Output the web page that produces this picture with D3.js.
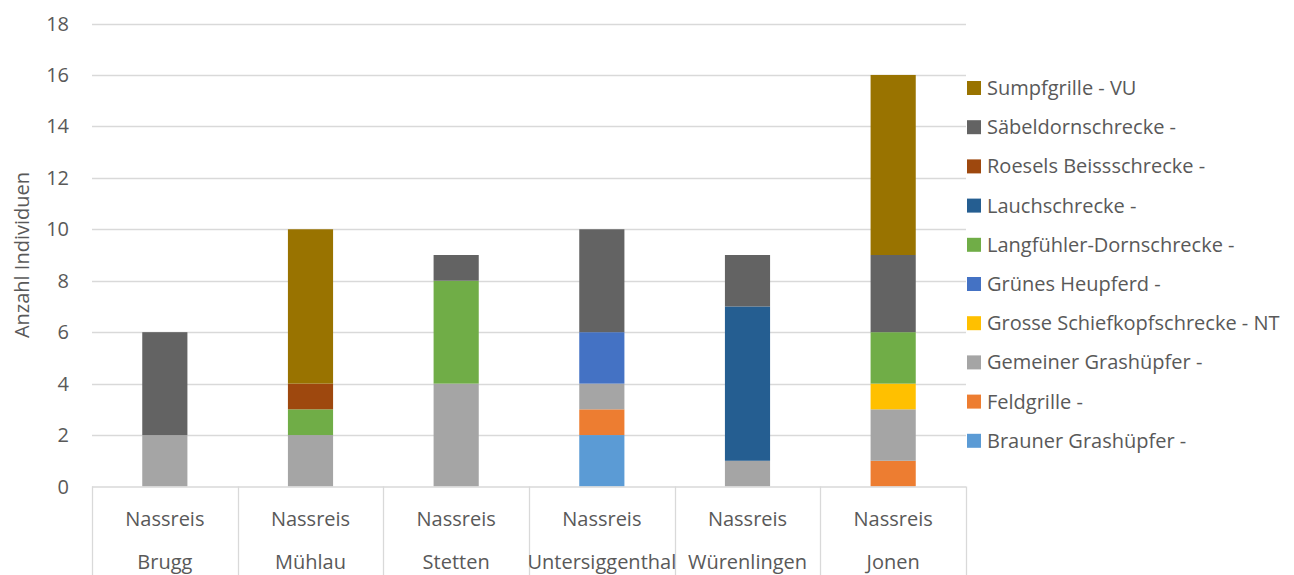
<!DOCTYPE html>
<html>
<head>
<meta charset="utf-8">
<script src="https://cdn.jsdelivr.net/npm/d3@7"></script>
<style>
  html, body { margin: 0; padding: 0; background: #fff; }
  svg { display: block; font-family: "Open Sans", "Liberation Sans", sans-serif; }
</style>
</head>
<body>
<svg id="chart" width="1294" height="575"></svg>
<script>
// Sites (two-level category axis: habitat / location)
const habitats = ["Nassreis", "Nassreis", "Nassreis", "Nassreis", "Nassreis", "Nassreis"];
const sites = ["Brugg", "Mühlau", "Stetten", "Untersiggenthal", "Würenlingen", "Jonen"];

// Species in stacking order (bottom to top)
const species = [
  "Brauner Grashüpfer -",
  "Feldgrille -",
  "Gemeiner Grashüpfer -",
  "Grosse Schiefkopfschrecke - NT",
  "Grünes Heupferd -",
  "Langfühler-Dornschrecke -",
  "Lauchschrecke -",
  "Roesels Beissschrecke -",
  "Säbeldornschrecke -",
  "Sumpfgrille - VU"
];
const colors = ["#5B9BD5", "#ED7D31", "#A5A5A5", "#FFC000", "#4472C4",
                "#70AD47", "#255E91", "#9E480E", "#636363", "#997300"];

// Counts per species, one value per site
const braunerGrashuepfer  = [0, 0, 0, 2, 0, 0];
const feldgrille          = [0, 0, 0, 1, 0, 1];
const gemeinerGrashuepfer = [2, 2, 4, 1, 1, 2];
const grosseSchiefkopf    = [0, 0, 0, 0, 0, 1];
const gruenesHeupferd     = [0, 0, 0, 2, 0, 0];
const langfuehlerDorn     = [0, 1, 4, 0, 0, 2];
const lauchschrecke       = [0, 0, 0, 0, 6, 0];
const roeselsBeiss        = [0, 1, 0, 0, 0, 0];
const saebeldorn          = [4, 0, 1, 4, 2, 3];
const sumpfgrille         = [0, 6, 0, 0, 0, 7];

const seriesValues = [braunerGrashuepfer, feldgrille, gemeinerGrashuepfer, grosseSchiefkopf,
  gruenesHeupferd, langfuehlerDorn, lauchschrecke, roeselsBeiss, saebeldorn, sumpfgrille];

const yTicks = [0, 2, 4, 6, 8, 10, 12, 14, 16, 18];

// Build rows for d3.stack
const rows = sites.map((s, i) => {
  const r = { site: s, idx: i };
  species.forEach((sp, k) => { r[sp] = seriesValues[k][i]; });
  return r;
});

const svg = d3.select("#chart");
const textColor = "#595959";
const lineColor = "#D9D9D9";
const fontSize = 20;

const plot = { left: 92, right: 966, top: 23.5, bottom: 486.5 };

const x = d3.scaleBand().domain(d3.range(sites.length))
  .range([plot.left, plot.right]).paddingInner(0).paddingOuter(0);
const barW = x.bandwidth() * 0.31;

const y = d3.scaleLinear().domain([0, 18]).range([plot.bottom, plot.top]);

// Gridlines
svg.append("g").selectAll("line").data(yTicks.filter(t => t > 0)).join("line")
  .attr("x1", plot.left).attr("x2", plot.right)
  .attr("y1", d => Math.round(y(d)) + 0.5).attr("y2", d => Math.round(y(d)) + 0.5)
  .attr("stroke", lineColor).attr("stroke-width", 1.3);

// Y tick labels
svg.append("g").selectAll("text").data(yTicks).join("text")
  .attr("x", 69).attr("y", d => y(d)).attr("dy", "0.35em")
  .attr("text-anchor", "end").attr("fill", textColor).attr("font-size", fontSize)
  .text(d => d);

// Y axis title
svg.append("text")
  .attr("transform", "translate(29,255) rotate(-90)")
  .attr("text-anchor", "middle").attr("fill", textColor).attr("font-size", fontSize)
  .text("Anzahl Individuen");

// Stacked bars
const stack = d3.stack().keys(species);
const stacked = stack(rows);
svg.append("g").selectAll("g").data(stacked).join("g")
  .attr("fill", (d, i) => colors[i])
  .selectAll("rect").data(d => d.filter(p => p[1] - p[0] > 0)).join("rect")
  .attr("x", d => x(d.data.idx) + (x.bandwidth() - barW) / 2)
  .attr("width", barW)
  .attr("y", d => y(d[1]))
  .attr("height", d => y(d[0]) - y(d[1]));

// Category axis: baseline + separators
const axisG = svg.append("g");
axisG.append("line")
  .attr("x1", plot.left).attr("x2", plot.right)
  .attr("y1", plot.bottom + 0.5).attr("y2", plot.bottom + 0.5)
  .attr("stroke", lineColor).attr("stroke-width", 1.3);
const seps = d3.range(sites.length + 1).map(i => i < sites.length ? x(i) : plot.right);
axisG.selectAll("line.sep").data(seps).join("line").attr("class", "sep")
  .attr("x1", d => Math.round(d) + 0.5).attr("x2", d => Math.round(d) + 0.5)
  .attr("y1", plot.bottom).attr("y2", 575)
  .attr("stroke", lineColor).attr("stroke-width", 1.3);

axisG.selectAll("text.hab").data(habitats).join("text").attr("class", "hab")
  .attr("x", (d, i) => x(i) + x.bandwidth() / 2).attr("y", 519).attr("dy", "0.35em")
  .attr("text-anchor", "middle").attr("fill", textColor).attr("font-size", fontSize)
  .text(d => d);
axisG.selectAll("text.site").data(sites).join("text").attr("class", "site")
  .attr("x", (d, i) => x(i) + x.bandwidth() / 2).attr("y", 562).attr("dy", "0.35em")
  .attr("text-anchor", "middle").attr("fill", textColor).attr("font-size", fontSize)
  .text(d => d);

// Legend (reverse stacking order, top = last series)
const legendItems = species.map((s, i) => ({ s, c: colors[i] })).reverse();
const legend = svg.append("g");
const lg = legend.selectAll("g").data(legendItems).join("g")
  .attr("transform", (d, i) => `translate(967,${88 + i * 39.2})`);
lg.append("rect").attr("x", 0).attr("y", -7).attr("width", 14).attr("height", 14)
  .attr("fill", d => d.c);
lg.append("text").attr("x", 20).attr("y", 0).attr("dy", "0.35em")
  .attr("fill", textColor).attr("font-size", fontSize)
  .text(d => d.s);
</script>
</body>
</html>
